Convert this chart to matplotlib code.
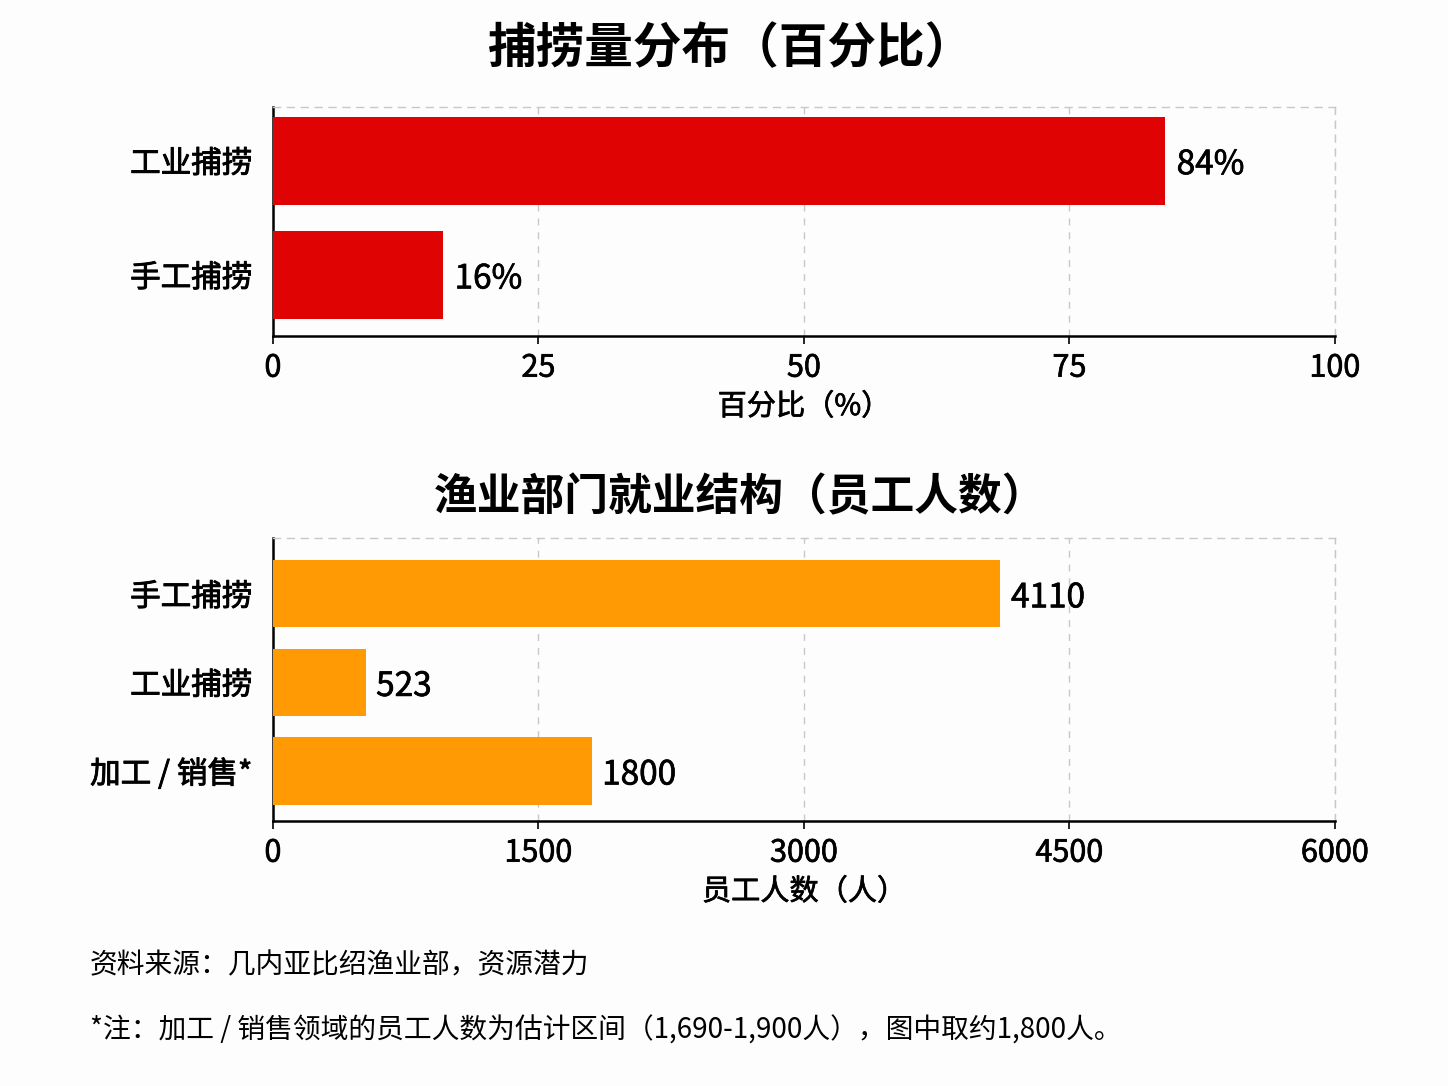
import matplotlib
matplotlib.use("Agg")
import matplotlib.pyplot as plt
import matplotlib.patheffects as pe

plt.rcParams['font.family'] = ['Noto Sans CJK SC', 'DejaVu Sans']

# top chart: catch share
catch_labels = ['工业捕捞', '手工捕捞']
catch_pct = [84, 16]
pct_ticks = [0, 25, 50, 75, 100]

# bottom chart: employment
emp_labels = ['手工捕捞', '工业捕捞', '加工 / 销售*']
emp_counts = [4110, 523, 1800]
emp_ticks = [0, 1500, 3000, 4500, 6000]

red = '#e00303'
orange = '#ff9a05'

# slightly heavier strokes than the regular weight
heavy = [pe.withStroke(linewidth=0.65, foreground='black')]
semi = [pe.withStroke(linewidth=0.5, foreground='black')]

fig = plt.figure(figsize=(14.48, 10.86), dpi=100)
fig.patch.set_facecolor('#fdfdfd')


def style(ax, ticks):
    ax.set_facecolor('#fdfdfd')
    ax.set_xticks(ticks)
    ax.set_xlim(ticks[0], ticks[-1])
    ax.grid(axis='x', linestyle=(0, (5, 5)), color='#c8c8c8', linewidth=1.0)
    ax.set_axisbelow(True)
    for s in ['top', 'right']:
        ax.spines[s].set_linestyle((0, (5, 5)))
        ax.spines[s].set_color('#c8c8c8')
        ax.spines[s].set_linewidth(1.0)
    for s in ['left', 'bottom']:
        ax.spines[s].set_color('black')
        ax.spines[s].set_linewidth(1.8)
    ax.tick_params(axis='x', labelsize=22, length=6, width=1.2, pad=6)
    ax.tick_params(axis='y', labelsize=22, length=0, pad=15)
    for t in ax.get_yticklabels():
        t.set_path_effects(heavy)
    for t in ax.get_xticklabels():
        t.set_path_effects(semi)


ax1 = fig.add_axes([0.1885, 0.6906, 0.7334, 0.2109])
ax1.barh(range(len(catch_labels)), catch_pct, height=0.77, color=red, zorder=3)
ax1.set_yticks(range(len(catch_labels)))
ax1.set_yticklabels(catch_labels)
ax1.set_ylim(1.535, -0.47)
style(ax1, pct_ticks)
ax1.set_xlabel('百分比（%）', fontsize=21, labelpad=6, path_effects=semi)
for i, v in enumerate(catch_pct):
    ax1.text(v + 1.1, i, f'{v}%', va='center_baseline', ha='left', fontsize=24,
             path_effects=semi)

ax2 = fig.add_axes([0.1885, 0.244, 0.7334, 0.2606])
ax2.barh(range(len(emp_labels)), emp_counts, height=0.76, color=orange, zorder=3)
ax2.set_yticks(range(len(emp_labels)))
ax2.set_yticklabels(emp_labels)
ax2.set_ylim(2.565, -0.63)
style(ax2, emp_ticks)
ax2.set_xlabel('员工人数（人）', fontsize=21, labelpad=6, path_effects=semi)
for i, v in enumerate(emp_counts):
    ax2.text(v + 60, i, f'{v}', va='center_baseline', ha='left', fontsize=24,
             path_effects=semi)

fig.text(0.504, 0.955, '捕捞量分布（百分比）', ha='center', va='center',
         fontsize=35, fontweight='bold')
fig.text(0.511, 0.542, '渔业部门就业结构（员工人数）', ha='center', va='center',
         fontsize=31.5, fontweight='bold')

fig.text(0.062, 0.111, '资料来源：几内亚比绍渔业部，资源潜力', ha='left', va='center',
         fontsize=20)
fig.text(0.062, 0.051, '*注：加工 / 销售领域的员工人数为估计区间（1,690-1,900人），图中取约1,800人。',
         ha='left', va='center', fontsize=20)

fig.savefig('out.png', dpi=100, facecolor=fig.get_facecolor())
